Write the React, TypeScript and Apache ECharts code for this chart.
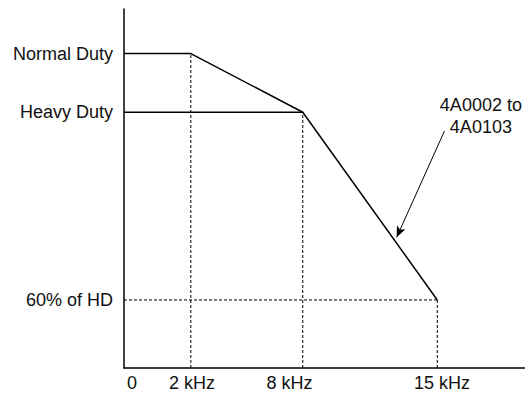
import React, { useEffect, useRef } from "react";
import * as echarts from "echarts";

// Schematic frequency axis (not to scale in the reference)
const freqLabels = ["0", "2 kHz", "8 kHz", "15 kHz"];
const freqPos = [0, 2, 5.35, 9.375];
const xLabelAt = [0.24, 2.035, 4.95, 9.516];
const xMin = 0;
const xMax = 12;

// Current rating levels
const ratingLabels = ["Normal Duty", "Heavy Duty", "60% of HD"];
const ratingValues = [112.5, 100, 60];
const yMin = 45.5;
const yMax = 122;

// Derating curve values at freqPos
const curveValues = [112.5, 112.5, 100, 60];
// Heavy duty flat line extends to 8 kHz
const heavyDutyEndIdx = 2;

// Annotation
const annotationText = "4A0002 to\n4A0103";
const annotationAt = [10.68, 99.2];
const arrowFrom = [9.59, 96.0];
const arrowTo = [8.16, 73.35];

const FONT = "'Liberation Sans', Arial, sans-serif";

export default function App() {
  const ref = useRef<HTMLDivElement>(null);
  useEffect(() => {
    if (!ref.current) return;
    const chart = echarts.init(ref.current, null, { renderer: "svg" });

    const dashStyle = { color: "#000", width: 1, type: [3, 2] as any };
    const dashedSeries: any[] = [];
    for (let i = 1; i < freqPos.length; i++) {
      dashedSeries.push({
        type: "line",
        symbol: "none",
        silent: true,
        lineStyle: dashStyle,
        data: [
          [freqPos[i], yMin],
          [freqPos[i], curveValues[i]],
        ],
      });
    }
    dashedSeries.push({
      type: "line",
      symbol: "none",
      silent: true,
      lineStyle: dashStyle,
      data: [
        [freqPos[0], ratingValues[2]],
        [freqPos[3], ratingValues[2]],
      ],
    });

    chart.setOption({
      animation: false,
      textStyle: { fontFamily: FONT },
      grid: { left: 124, right: 0, top: 9, bottom: 26, containLabel: false },
      xAxis: {
        type: "value",
        min: xMin,
        max: xMax,
        axisLine: { show: true, lineStyle: { color: "#000", width: 1.5 } },
        axisTick: { show: false },
        splitLine: { show: false },
        axisLabel: {
          customValues: xLabelAt,
          formatter: (v: number) => {
            const i = xLabelAt.indexOf(v);
            return i >= 0 ? freqLabels[i] : "";
          },
          color: "#111",
          fontSize: 18,
          fontFamily: FONT,
          margin: 6,
        },
      },
      yAxis: {
        type: "value",
        min: yMin,
        max: yMax,
        axisLine: { show: true, lineStyle: { color: "#000", width: 1.5 } },
        axisTick: { show: false },
        splitLine: { show: false },
        axisLabel: {
          customValues: ratingValues,
          formatter: (v: number) => {
            const i = ratingValues.indexOf(v);
            return i >= 0 ? ratingLabels[i] : "";
          },
          color: "#111",
          fontSize: 18,
          fontFamily: FONT,
          margin: 11,
        },
      },
      series: [
        ...dashedSeries,
        {
          type: "line",
          symbol: "none",
          silent: true,
          lineStyle: { color: "#000", width: 1.5 },
          data: freqPos.map((x, i) => [x, curveValues[i]]),
        },
        {
          type: "line",
          symbol: "none",
          silent: true,
          lineStyle: { color: "#000", width: 1.5 },
          data: [
            [freqPos[0], ratingValues[1]],
            [freqPos[heavyDutyEndIdx], ratingValues[1]],
          ],
          markLine: {
            silent: true,
            symbol: ["none", "arrow"],
            symbolSize: [7, 11],
            label: { show: false },
            lineStyle: { color: "#000", width: 1, type: "solid" },
            data: [[{ coord: arrowFrom }, { coord: arrowTo }]],
          },
        },
      ],
    });

    const p = chart.convertToPixel({ gridIndex: 0 }, annotationAt) as number[];
    chart.setOption({
      graphic: [
        {
          type: "text",
          x: p[0],
          y: p[1],
          silent: true,
          style: {
            text: annotationText,
            fill: "#111",
            font: `18px ${FONT}`,
            lineHeight: 22,
            align: "center",
            verticalAlign: "middle",
          },
        },
      ],
    });
    return () => chart.dispose();
  }, []);
  return (
    <div
      ref={ref}
      style={{ position: "absolute", left: 0, top: 0, width: 525, height: 394 }}
    />
  );
}
